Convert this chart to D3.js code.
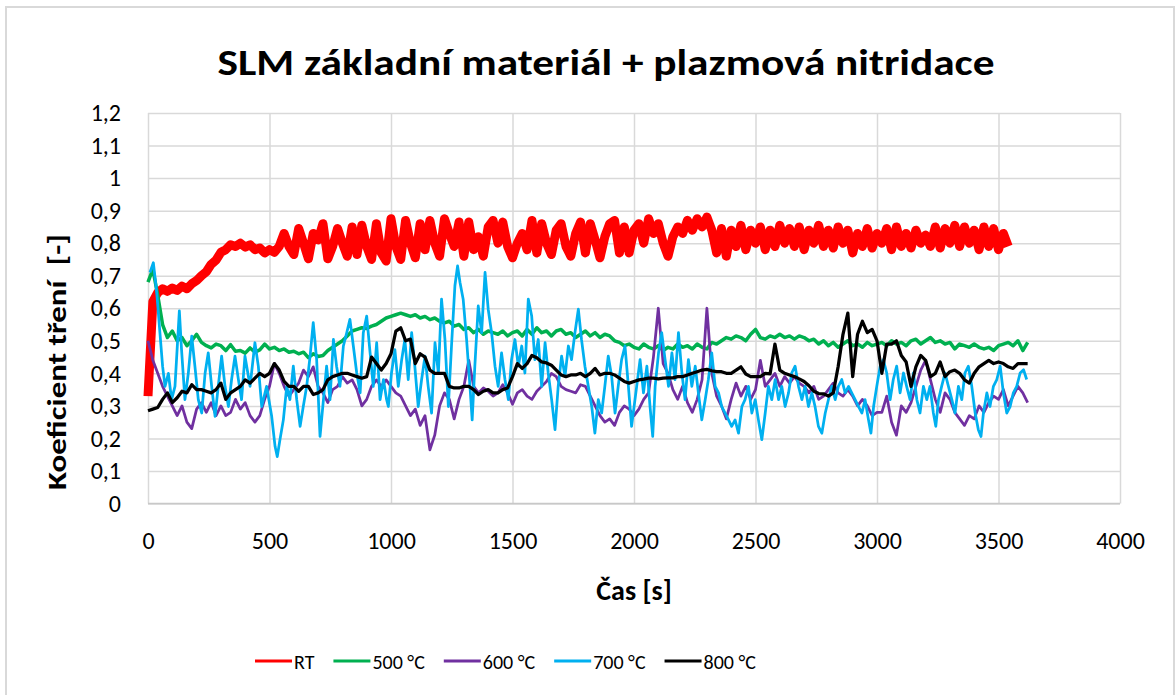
<!DOCTYPE html>
<html>
<head>
<meta charset="utf-8">
<script src="https://cdn.jsdelivr.net/npm/d3@7"></script>
<style>
  body { margin: 0; background: #fff; }
  text { font-family: Carlito, Calibri, Lato, sans-serif; fill: #000; }
</style>
</head>
<body>
<script>
// sampling interval of the logged series [s]
const timeStep = 20;

const xTicks = [0, 500, 1000, 1500, 2000, 2500, 3000, 3500, 4000];
const yTicks = [0, 0.1, 0.2, 0.3, 0.4, 0.5, 0.6, 0.7, 0.8, 0.9, 1, 1.1, 1.2];
const yTickLabels = ["0", "0,1", "0,2", "0,3", "0,4", "0,5", "0,6", "0,7", "0,8", "0,9", "1", "1,1", "1,2"];

const seriesNames = ["RT", "500 °C", "600 °C", "700 °C", "800 °C"];

// RT, every 20 s
const rtValues = [
  0.33, 0.62, 0.648, 0.66, 0.652, 0.662, 0.655, 0.668, 0.66, 0.675,
  0.685, 0.70, 0.712, 0.735, 0.748, 0.772, 0.78, 0.795, 0.79, 0.80,
  0.788, 0.795, 0.78, 0.785, 0.77, 0.78, 0.772, 0.79, 0.83, 0.79,
  0.765, 0.845, 0.80, 0.752, 0.83, 0.81, 0.86, 0.752, 0.79, 0.845,
  0.80, 0.76, 0.85, 0.765, 0.855, 0.79, 0.75, 0.86, 0.77, 0.745,
  0.875, 0.79, 0.75, 0.87, 0.80, 0.755, 0.86, 0.78, 0.87, 0.80,
  0.76, 0.875, 0.83, 0.79, 0.865, 0.76, 0.865, 0.78, 0.82, 0.76,
  0.85, 0.87, 0.80, 0.865, 0.79, 0.755, 0.80, 0.83, 0.78, 0.87,
  0.77, 0.86, 0.80, 0.765, 0.84, 0.86, 0.79, 0.76, 0.83, 0.865,
  0.77, 0.86, 0.81, 0.755, 0.82, 0.86, 0.87, 0.77, 0.85, 0.77,
  0.84, 0.86, 0.80, 0.875, 0.83, 0.86, 0.80, 0.76, 0.82, 0.85,
  0.83, 0.87, 0.84, 0.875, 0.85, 0.88, 0.84, 0.77, 0.845, 0.76,
  0.84, 0.79, 0.855, 0.78, 0.84, 0.80, 0.85, 0.78, 0.84, 0.79,
  0.855, 0.80, 0.845, 0.79, 0.85, 0.78, 0.84, 0.80, 0.855, 0.79,
  0.84, 0.785, 0.85, 0.80, 0.84, 0.77, 0.83, 0.79, 0.845, 0.785,
  0.83, 0.80, 0.845, 0.78, 0.85, 0.79, 0.83, 0.785, 0.84, 0.80,
  0.825, 0.79, 0.85, 0.785, 0.845, 0.80, 0.855, 0.79, 0.85, 0.80,
  0.84, 0.78, 0.85, 0.79, 0.845, 0.78, 0.83, 0.79
];

// 500 °C, every 20 s
const t500Values = [
  0.68, 0.72, 0.64, 0.55, 0.51, 0.53, 0.50, 0.51, 0.485, 0.50,
  0.52, 0.495, 0.485, 0.478, 0.49, 0.485, 0.47, 0.488, 0.468, 0.47,
  0.462, 0.478, 0.465, 0.472, 0.49, 0.475, 0.48, 0.47, 0.475, 0.465,
  0.468, 0.46, 0.465, 0.448, 0.46, 0.452, 0.455, 0.47, 0.48, 0.49,
  0.50, 0.515, 0.53, 0.535, 0.54, 0.538, 0.545, 0.55, 0.56, 0.57,
  0.575, 0.58, 0.585, 0.58, 0.575, 0.58, 0.57, 0.575, 0.565, 0.57,
  0.56, 0.555, 0.56, 0.545, 0.55, 0.535, 0.54, 0.525, 0.535, 0.52,
  0.53, 0.525, 0.52, 0.53, 0.515, 0.525, 0.53, 0.515, 0.535, 0.52,
  0.54, 0.525, 0.53, 0.515, 0.53, 0.535, 0.52, 0.525, 0.51, 0.52,
  0.53, 0.515, 0.525, 0.51, 0.52, 0.515, 0.50, 0.495, 0.485, 0.49,
  0.48, 0.475, 0.49, 0.48, 0.475, 0.485, 0.47, 0.48, 0.475, 0.49,
  0.48, 0.485, 0.475, 0.49, 0.48, 0.475, 0.495, 0.49, 0.50, 0.51,
  0.505, 0.515, 0.51, 0.50, 0.52, 0.535, 0.51, 0.505, 0.515, 0.51,
  0.52, 0.51, 0.515, 0.505, 0.515, 0.51, 0.50, 0.505, 0.49, 0.50,
  0.485, 0.495, 0.48, 0.49, 0.50, 0.485, 0.49, 0.48, 0.495, 0.485,
  0.49, 0.495, 0.485, 0.50, 0.49, 0.495, 0.485, 0.50, 0.505, 0.49,
  0.50, 0.51, 0.495, 0.50, 0.49, 0.495, 0.475, 0.49, 0.485, 0.48,
  0.49, 0.48, 0.475, 0.48, 0.47, 0.485, 0.49, 0.495, 0.485, 0.50,
  0.47, 0.495
];

// 600 °C, every 20 s
const t600Values = [
  0.50, 0.44, 0.40, 0.36, 0.33, 0.30, 0.27, 0.30, 0.25, 0.23,
  0.29, 0.31, 0.28, 0.31, 0.27, 0.30, 0.27, 0.28, 0.32, 0.29,
  0.31, 0.27, 0.25, 0.27, 0.32, 0.36, 0.43, 0.40, 0.36, 0.33,
  0.35, 0.37, 0.41, 0.39, 0.42, 0.36, 0.34, 0.31, 0.35, 0.36,
  0.39, 0.37, 0.38, 0.35, 0.30, 0.32, 0.36, 0.38, 0.36, 0.38,
  0.36, 0.34, 0.33, 0.30, 0.27, 0.29, 0.24, 0.27, 0.165, 0.21,
  0.30, 0.34, 0.32, 0.26, 0.32, 0.36, 0.44, 0.36, 0.34, 0.355,
  0.345, 0.33, 0.34, 0.365, 0.34, 0.305, 0.34, 0.35, 0.33, 0.32,
  0.345, 0.36, 0.375, 0.40, 0.39, 0.36, 0.35, 0.345, 0.34, 0.365,
  0.36, 0.33, 0.30, 0.27, 0.25, 0.26, 0.24, 0.28, 0.30, 0.29,
  0.27, 0.29, 0.32, 0.34, 0.45, 0.60, 0.43, 0.40, 0.35, 0.32,
  0.36, 0.31, 0.28, 0.32, 0.38, 0.60, 0.40, 0.33, 0.30, 0.26,
  0.32, 0.37, 0.33, 0.36, 0.32, 0.35, 0.44, 0.36, 0.38, 0.40,
  0.36, 0.39, 0.37, 0.39, 0.37, 0.36, 0.34, 0.36, 0.32, 0.33,
  0.35, 0.37, 0.34, 0.33, 0.35, 0.33, 0.30, 0.32, 0.30, 0.27,
  0.28, 0.28, 0.33, 0.25, 0.21, 0.30, 0.28, 0.31, 0.36, 0.41,
  0.44, 0.38, 0.32, 0.28, 0.34, 0.32, 0.28, 0.26, 0.24, 0.27,
  0.26, 0.30, 0.28, 0.31, 0.33, 0.32, 0.35, 0.30, 0.33, 0.36,
  0.34, 0.31
];

// 700 °C, irregular time stamps
const t700Time = [
  8, 22, 36, 49, 60, 70, 84, 97, 111, 129, 138, 152, 166, 180, 193, 207, 221, 235, 248, 262,
  276, 289, 303, 317, 331, 344, 358, 372, 385, 399, 420, 440, 454, 468, 488, 509, 523, 532, 543, 557,
  571, 584, 598, 612, 626, 639, 653, 667, 680, 694, 708, 722, 735, 749, 763, 776, 790, 804, 818, 831,
  845, 859, 873, 886, 900, 914, 927, 941, 955, 969, 982, 989, 1002, 1016, 1030, 1044, 1057, 1071, 1085, 1098,
  1112, 1126, 1140, 1153, 1167, 1181, 1195, 1208, 1222, 1236, 1249, 1263, 1274, 1284, 1297, 1311, 1325, 1334, 1345, 1359,
  1373, 1387, 1400, 1414, 1428, 1441, 1455, 1469, 1483, 1496, 1510, 1524, 1538, 1551, 1565, 1579, 1592, 1606, 1620, 1634,
  1647, 1661, 1675, 1688, 1702, 1716, 1730, 1743, 1757, 1771, 1784, 1798, 1812, 1826, 1839, 1853, 1867, 1880, 1894, 1908,
  1922, 1935, 1949, 1963, 1977, 1990, 2011, 2025, 2039, 2053, 2066, 2077, 2087, 2101, 2114, 2128, 2142, 2156, 2169, 2183,
  2197, 2210, 2224, 2238, 2252, 2265, 2279, 2293, 2306, 2320, 2334, 2348, 2361, 2375, 2389, 2402, 2416, 2430, 2444, 2457,
  2471, 2485, 2499, 2512, 2526, 2540, 2553, 2567, 2581, 2595, 2608, 2622, 2636, 2649, 2663, 2677, 2691, 2704, 2718, 2732,
  2745, 2759, 2773, 2787, 2800, 2814, 2828, 2841, 2855, 2869, 2883, 2896, 2910, 2924, 2938, 2951, 2965, 2975, 2986, 2999,
  3013, 3026, 3040, 3054, 3067, 3081, 3095, 3109, 3122, 3136, 3150, 3164, 3177, 3191, 3205, 3218, 3232, 3242, 3253, 3266,
  3280, 3294, 3308, 3321, 3335, 3349, 3362, 3376, 3390, 3404, 3417, 3428, 3438, 3452, 3465, 3479, 3493, 3507, 3520, 3534,
  3548, 3561, 3575, 3589, 3603, 3616
];
const t700Values = [
  0.71, 0.74, 0.648, 0.525, 0.422, 0.36, 0.40, 0.319, 0.36, 0.592, 0.473, 0.319, 0.401, 0.514, 0.422, 0.319, 0.278, 0.401, 0.463, 0.36,
  0.268, 0.36, 0.453, 0.36, 0.298, 0.381, 0.453, 0.381, 0.319, 0.453, 0.36, 0.494, 0.422, 0.298, 0.36, 0.268, 0.175, 0.144, 0.196, 0.257,
  0.36, 0.319, 0.422, 0.319, 0.237, 0.298, 0.36, 0.453, 0.556, 0.443, 0.206, 0.319, 0.422, 0.319, 0.504, 0.422, 0.36, 0.484, 0.525, 0.566,
  0.484, 0.401, 0.34, 0.525, 0.576, 0.463, 0.36, 0.494, 0.319, 0.381, 0.319, 0.298, 0.401, 0.473, 0.36, 0.442, 0.504, 0.381, 0.525, 0.422,
  0.298, 0.381, 0.453, 0.36, 0.278, 0.494, 0.401, 0.628, 0.504, 0.298, 0.484, 0.669, 0.73, 0.679, 0.628, 0.504, 0.36, 0.257, 0.422, 0.607,
  0.525, 0.71, 0.597, 0.525, 0.422, 0.36, 0.463, 0.381, 0.319, 0.442, 0.504, 0.422, 0.484, 0.401, 0.628, 0.576, 0.442, 0.504, 0.36, 0.494,
  0.401, 0.319, 0.227, 0.36, 0.453, 0.391, 0.484, 0.442, 0.525, 0.597, 0.504, 0.422, 0.36, 0.298, 0.216, 0.319, 0.278, 0.36, 0.453, 0.391,
  0.278, 0.36, 0.442, 0.484, 0.36, 0.237, 0.36, 0.442, 0.34, 0.422, 0.298, 0.206, 0.36, 0.463, 0.525, 0.442, 0.36, 0.463, 0.381, 0.525,
  0.401, 0.319, 0.442, 0.36, 0.422, 0.34, 0.257, 0.319, 0.381, 0.463, 0.36, 0.34, 0.298, 0.278, 0.257, 0.237, 0.257, 0.216, 0.298, 0.319,
  0.36, 0.278, 0.319, 0.257, 0.196, 0.278, 0.36, 0.319, 0.381, 0.319, 0.36, 0.298, 0.34, 0.401, 0.422, 0.36, 0.319, 0.36, 0.298, 0.34,
  0.298, 0.237, 0.216, 0.278, 0.319, 0.36, 0.319, 0.36, 0.381, 0.34, 0.36, 0.34, 0.319, 0.298, 0.278, 0.319, 0.257, 0.216, 0.298, 0.36,
  0.422, 0.442, 0.401, 0.319, 0.381, 0.422, 0.34, 0.401, 0.36, 0.319, 0.401, 0.319, 0.278, 0.36, 0.319, 0.36, 0.278, 0.237, 0.319, 0.36,
  0.401, 0.36, 0.319, 0.278, 0.36, 0.319, 0.401, 0.422, 0.36, 0.278, 0.227, 0.206, 0.278, 0.34, 0.298, 0.36, 0.381, 0.422, 0.34, 0.278,
  0.298, 0.34, 0.36, 0.401, 0.411, 0.381
];

// 800 °C, every 20 s
const t800Values = [
  0.285, 0.29, 0.295, 0.32, 0.34, 0.31, 0.325, 0.345, 0.34, 0.365,
  0.35, 0.35, 0.345, 0.34, 0.35, 0.37, 0.32, 0.34, 0.35, 0.36,
  0.38, 0.37, 0.385, 0.40, 0.39, 0.40, 0.43, 0.41, 0.375, 0.36,
  0.36, 0.345, 0.36, 0.36, 0.335, 0.34, 0.35, 0.38, 0.39, 0.395,
  0.40, 0.40, 0.395, 0.39, 0.385, 0.39, 0.45, 0.43, 0.41, 0.43,
  0.46, 0.53, 0.54, 0.50, 0.505, 0.43, 0.46, 0.45, 0.41, 0.40,
  0.40, 0.40, 0.36, 0.355, 0.355, 0.36, 0.36, 0.35, 0.335, 0.345,
  0.35, 0.34, 0.34, 0.35, 0.355, 0.39, 0.43, 0.415, 0.43, 0.455,
  0.448, 0.435, 0.432, 0.425, 0.41, 0.395, 0.39, 0.395, 0.395, 0.40,
  0.39, 0.40, 0.415, 0.395, 0.40, 0.40, 0.395, 0.385, 0.375, 0.37,
  0.375, 0.38, 0.382, 0.385, 0.385, 0.383, 0.385, 0.386, 0.386, 0.39,
  0.39, 0.395, 0.40, 0.405, 0.41, 0.412, 0.408, 0.405, 0.405, 0.40,
  0.40, 0.41, 0.42, 0.398, 0.39, 0.39, 0.39, 0.40, 0.398, 0.49,
  0.41, 0.40, 0.395, 0.39, 0.383, 0.375, 0.362, 0.345, 0.338, 0.337,
  0.33, 0.34, 0.42, 0.52, 0.585, 0.39, 0.52, 0.56, 0.525, 0.535,
  0.50, 0.40, 0.49, 0.49, 0.50, 0.455, 0.435, 0.36, 0.42, 0.455,
  0.44, 0.39, 0.40, 0.435, 0.39, 0.405, 0.41, 0.40, 0.38, 0.37,
  0.40, 0.42, 0.43, 0.44, 0.43, 0.435, 0.43, 0.42, 0.415, 0.43,
  0.43, 0.43
];

const colors = ["#FF0000", "#00B050", "#7030A0", "#00B0F0", "#000000"];

const W = 1175, H = 695;
const margin = { left: 148, right: 55, top: 113, bottom: 191.5 };

const svg = d3.select("body").append("svg").attr("width", W).attr("height", H);

// chart frame
svg.append("rect")
  .attr("x", 6).attr("y", 7)
  .attr("width", 1168).attr("height", 700)
  .attr("fill", "#fff")
  .attr("stroke", "#d9d9d9")
  .attr("stroke-width", 2);

const x = d3.scaleLinear().domain([0, 4000]).range([margin.left, W - margin.right]);
const y = d3.scaleLinear().domain([0, 1.2]).range([H - margin.bottom, margin.top]);

// grid
svg.append("g")
  .attr("transform", `translate(${margin.left},0)`)
  .call(d3.axisLeft(y).tickValues(yTicks).tickSize(-(x.range()[1] - x.range()[0])).tickFormat(""))
  .call(g => g.select(".domain").remove())
  .call(g => g.selectAll("line").attr("stroke", "#d9d9d9").attr("stroke-width", 1.5));

svg.append("g")
  .attr("transform", `translate(0,${y(0)})`)
  .call(d3.axisBottom(x).tickValues(xTicks).tickSize(-(y.range()[0] - y.range()[1])).tickFormat(""))
  .call(g => g.select(".domain").remove())
  .call(g => g.selectAll("line").attr("stroke", "#d9d9d9").attr("stroke-width", 1.5));

// axis line
svg.append("line")
  .attr("x1", x(0)).attr("x2", x(4000)).attr("y1", y(0)).attr("y2", y(0))
  .attr("stroke", "#c8c8c8").attr("stroke-width", 1.5);

// tick labels
svg.append("g")
  .attr("transform", `translate(${margin.left},0)`)
  .call(d3.axisLeft(y).tickValues(yTicks).tickSize(0).tickPadding(27)
    .tickFormat((d, i) => yTickLabels[i]))
  .call(g => g.select(".domain").remove())
  .call(g => g.selectAll("text").attr("font-size", 24).attr("fill", "#000")
    .style("font-family", "Carlito, Calibri, Lato, sans-serif"));

svg.append("g")
  .attr("transform", `translate(0,${y(0)})`)
  .call(d3.axisBottom(x).tickValues(xTicks).tickSize(0).tickPadding(28).tickFormat(d3.format("d")))
  .call(g => g.select(".domain").remove())
  .call(g => g.selectAll("text").attr("font-size", 24).attr("fill", "#000")
    .style("font-family", "Carlito, Calibri, Lato, sans-serif"));

// series
const series = [
  { values: rtValues.map((v, i) => [i * timeStep, v]), width: 9 },
  { values: t500Values.map((v, i) => [i * timeStep, v]), width: 3.5 },
  { values: t600Values.map((v, i) => [i * timeStep, v]), width: 2.75 },
  { values: t700Time.map((t, i) => [t, t700Values[i]]), width: 2.75 },
  { values: t800Values.map((v, i) => [i * timeStep, v]), width: 3.25 }
];

const lineFunc = d3.line()
  .x(d => x(d[0]))
  .y(d => y(d[1]))
  .curve(d3.curveLinear);

svg.append("g")
  .selectAll("path")
  .data(series)
  .enter()
  .append("path")
  .attr("d", d => lineFunc(d.values))
  .attr("fill", "none")
  .attr("stroke", (d, i) => colors[i])
  .attr("stroke-width", d => d.width)
  .attr("stroke-linejoin", "round");

// title
svg.append("text")
  .attr("x", 606).attr("y", 75)
  .attr("text-anchor", "middle")
  .attr("font-size", 36)
  .attr("font-weight", "bold")
  .attr("textLength", 777)
  .attr("lengthAdjust", "spacingAndGlyphs")
  .text("SLM základní materiál + plazmová nitridace");

// axis titles
svg.append("text")
  .attr("transform", "translate(66,362) rotate(-90)")
  .attr("text-anchor", "middle")
  .attr("font-size", 27)
  .attr("font-weight", "bold")
  .attr("textLength", 256)
  .attr("lengthAdjust", "spacingAndGlyphs")
  .style("white-space", "pre")
  .text("Koeficient tření  [-]");

svg.append("text")
  .attr("x", (x(0) + x(4000)) / 2).attr("y", 600)
  .attr("text-anchor", "middle")
  .attr("font-size", 28)
  .attr("font-weight", "bold")
  .text("Čas [s]");

// legend
const legend = svg.append("g");
let lx = 255;
seriesNames.forEach((name, i) => {
  legend.append("line")
    .attr("x1", lx).attr("x2", lx + 37)
    .attr("y1", 661).attr("y2", 661)
    .attr("stroke", colors[i]).attr("stroke-width", 3);
  const t = legend.append("text")
    .attr("x", lx + 39).attr("y", 668.5)
    .attr("font-size", 20)
    .text(name);
  lx += 39 + t.node().getComputedTextLength() + 19;
});
</script>
</body>
</html>
